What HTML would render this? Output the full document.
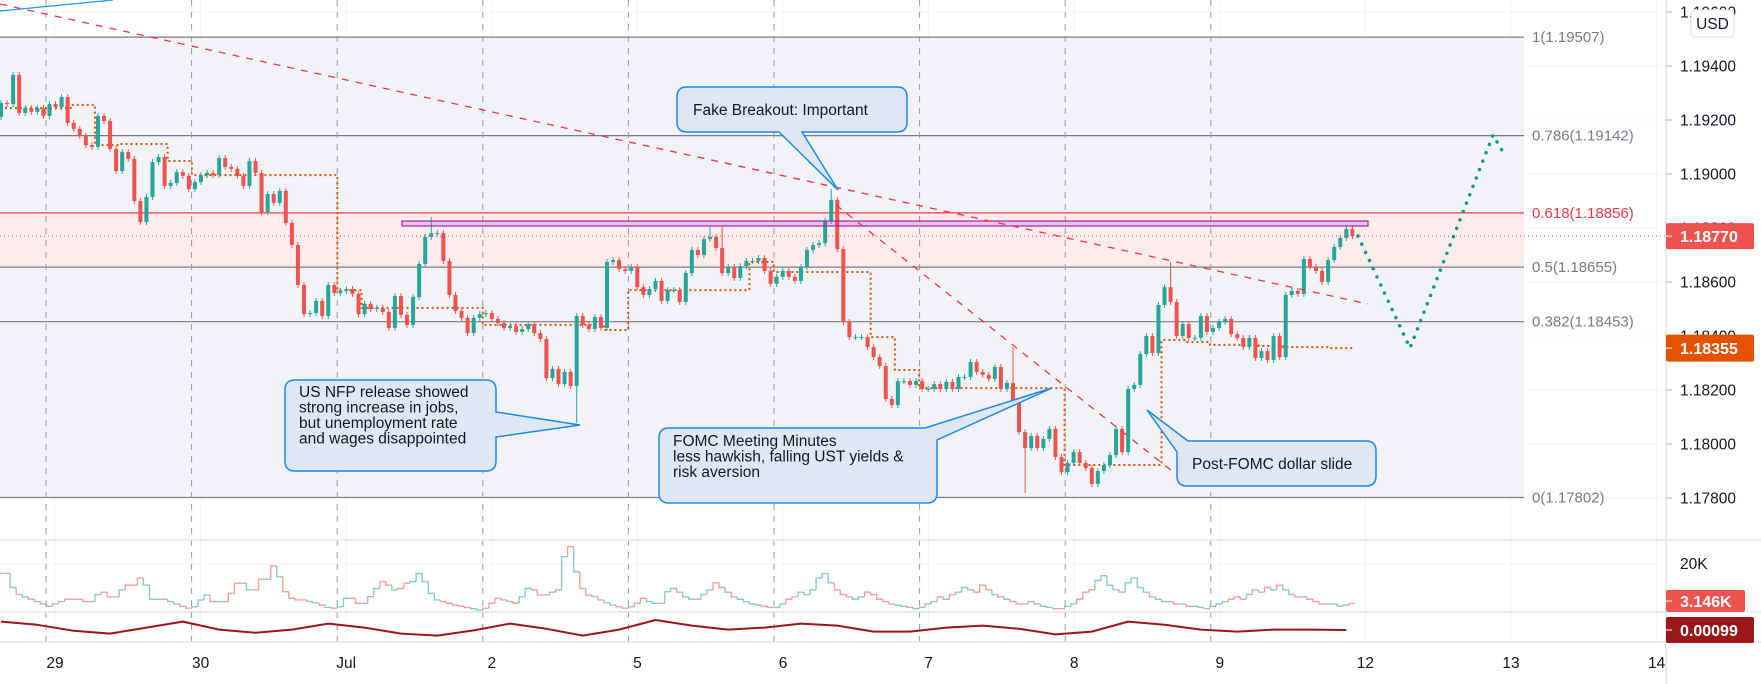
<!DOCTYPE html>
<html><head><meta charset="utf-8"><style>
html,body{margin:0;padding:0;background:#fff;}
svg{display:block;font-family:"Liberation Sans",sans-serif;}
</style></head><body>
<svg id="chart" width="1761" height="684" viewBox="0 0 1761 684" xmlns="http://www.w3.org/2000/svg">
<defs><clipPath id="mainclip"><rect x="0" y="0" width="1666" height="540"/></clipPath>
<clipPath id="volclip"><rect x="0" y="540" width="1666" height="102"/></clipPath></defs>
<g id="grid"></g>
<g id="fib"></g>
<g id="sessions"></g>
<g clip-path="url(#mainclip)">
<g id="ma"></g>
<g id="candles"></g>
<g id="draw"></g>
</g>
<g clip-path="url(#volclip)"><g id="vol"></g><g id="ind"></g></g>
<g id="axis"></g>
<g id="callouts"></g>
</svg>
<script>
const closes=[1.19263,1.19259,1.19367,1.19226,1.19244,1.19230,1.19244,1.19215,1.19259,1.19248,
1.19285,1.19189,1.19167,1.19141,1.19107,1.19100,1.19215,1.19196,1.19093,1.19011,
1.19081,1.19056,1.18900,1.18822,1.18915,1.19044,1.19063,1.18956,1.18967,1.19007,
1.18993,1.18944,1.18970,1.18996,1.19004,1.18996,1.19059,1.19026,1.19019,1.18993,
1.18956,1.19048,1.19004,1.18859,1.18926,1.18893,1.18937,1.18819,1.18737,1.18589,
1.18481,1.18485,1.18530,1.18474,1.18589,1.18559,1.18567,1.18574,1.18556,1.18481,
1.18519,1.18500,1.18504,1.18489,1.18430,1.18548,1.18478,1.18441,1.18544,1.18667,
1.18767,1.18781,1.18781,1.18678,1.18552,1.18493,1.18467,1.18411,1.18467,1.18481,
1.18485,1.18463,1.18448,1.18430,1.18437,1.18415,1.18426,1.18444,1.18411,1.18389,
1.18244,1.18278,1.18222,1.18267,1.18215,1.18474,1.18441,1.18426,1.18470,1.18430,
1.18674,1.18681,1.18648,1.18641,1.18656,1.18581,1.18552,1.18574,1.18604,1.18530,
1.18570,1.18570,1.18526,1.18633,1.18719,1.18700,1.18759,1.18767,1.18726,1.18633,
1.18656,1.18615,1.18659,1.18678,1.18678,1.18689,1.18641,1.18593,1.18619,1.18641,
1.18619,1.18604,1.18656,1.18719,1.18737,1.18744,
1.18826,1.18904,1.18722,1.18452,1.18396,1.18396,1.18396,1.18359,1.18322,1.18289,
1.18167,1.18144,1.18233,1.18233,1.18219,1.18233,1.18204,1.18204,1.18222,1.18204,
1.18230,1.18204,1.18248,1.18248,1.18304,1.18267,1.18256,1.18241,1.18285,1.18204,
1.18226,1.18159,1.18044,1.17985,1.18030,1.17985,1.18019,1.18056,1.17952,1.17896,
1.17930,1.17970,1.17930,1.17911,1.17852,1.17900,1.17922,1.17959,1.18056,1.17970,
1.18204,1.18219,1.18333,1.18400,1.18337,1.18515,1.18581,1.18526,1.18400,1.18444,
1.18393,1.18393,1.18474,1.18415,1.18430,
1.18452,1.18463,1.18407,1.18393,1.18359,1.18393,1.18319,1.18344,1.18311,1.18400,
1.18322,1.18552,1.18567,1.18556,1.18685,1.18656,1.18641,1.18600,1.18681,1.18730,
1.18763,1.18796,1.18770];
const firstOpen=1.19211;
const highOverrides={71:1.18841,117:1.18804,119:1.18804,137:1.18944,167:1.18359,193:1.18674};
const lowOverrides={95:1.18078,169:1.17819};
const volumesK=[16,16,10,7,6,5,4,3,2,3,4,5,5,5,4,4,7,8,6,6,9,11,11,14,11,5,5,5,4,3,
2,1.2,1.8,4.7,6.8,4.0,4.0,4.0,7.5,11.8,11.8,9.0,9.0,13.5,13.5,19.2,14.6,8.2,5.4,4.7,4.7,4.0,3.5,2.5,1.5,
1.2,1.8,5.4,5.4,3.3,3.3,6.1,9.6,12.5,11.0,9.0,9.6,11.8,12.5,15.9,12.5,7.5,4.7,4.0,3.3,2.5,2,1.5,1,0.4,
1.2,3.3,5.4,4.7,4.0,3.3,6.1,9.6,9.0,6.8,6.8,8,9,23.1,27.4,16.7,9.6,6.8,6.1,4.7,3.5,2.6,1.8,1.2,
1.8,3.3,5.4,4.0,3.3,3.3,8.2,9.6,8,6,5,5,7,9,12,10,8,6,5,4,3,2.5,2,1.5,
1.5,3,5,6,8,7,9,14,16,12,9,7,6,5,6,8,7,5,4,3,2.5,2,1.5,1,
1.5,3,4,6,5,7,8,10,9,8,11,9,7,6,5,4,3,3,4,3,2,1.5,1,1,
2,3,5,8,9,13,15,11,9,8,12,14,10,8,6,5,4,4,3,3,2,2,1.5,1,
2,3,4,5,6,5,7,9,8,10,9,11,9,7,6,6,5,4,3,3,3,2,2.5,3.146];
const indicatorE3=[1.2,1.12,0.97,0.9,1.05,1.2,1.0,0.92,1.0,1.15,1.05,0.9,0.85,0.98,1.15,1.02,0.85,1.0,1.24,1.1,1.0,1.05,1.15,1.1,0.95,0.95,1.05,1.1,1.02,0.88,0.95,1.2,1.12,1.0,0.95,1.0,1.0,0.99];
const maLevels=[1.19244,1.19244,1.19244,1.19256,1.19107,1.19111,1.19111,1.19048,1.18996,1.18996,1.18996,1.18996,1.18996,1.18996,
1.18570,1.18504,1.18504,1.18504,1.18504,1.18504,1.18441,1.18441,1.18441,1.18441,1.18441,1.18422,
1.18570,1.18570,1.18570,1.18570,1.18570,1.18674,1.18637,1.18637,1.18637,1.18637,1.18396,1.18274,1.18207,
1.18207,1.18207,1.18207,1.18207,1.18207,1.17922,1.17922,1.17922,1.17922,1.18385,1.18378,1.18367,1.18367,1.18363,1.18359,1.18359,1.18355];
const fibRatios=["1","0.786","0.618","0.5","0.382","0"];
const fibPrices=[1.19507,1.19142,1.18856,1.18655,1.18453,1.17802];
const priceTicks=[1.196,1.194,1.192,1.190,1.188,1.186,1.184,1.182,1.180,1.178];
const dayLabels=["29","30","Jul","2","5","6","7","8","9","12","13","14"];
const lastPrice=1.18770, maLast=1.18355, volLast="3.146K", indLast="0.00099";

const NS="http://www.w3.org/2000/svg";
function mk(tag,attrs,parent,text){const e=document.createElementNS(NS,tag);for(const k in attrs)e.setAttribute(k,attrs[k]);if(text!==undefined)e.textContent=text;if(parent)parent.appendChild(e);return e;}
const step=6.06;
const xOf=i=>1+i*step;
const yOf=p=>498-(p-1.178)*27000;
const vY=v=>611-v*2.35;
const iY=v=>630-(v-0.99)*40;
const dayX=k=>55+k*145.6;
const $=id=>document.getElementById(id);

// grid
const grid=$('grid');
priceTicks.forEach(p=>{const l=mk('line',{x1:0,x2:1666,y1:yOf(p),y2:yOf(p),stroke:'#f0f3fa','stroke-width':1},grid);

});
mk('line',{x1:0,x2:1666,y1:564,y2:564,stroke:'#f0f3fa'},grid);
dayLabels.forEach((d,k)=>{const l=mk('line',{x1:dayX(k),x2:dayX(k),y1:0,y2:642,stroke:'#f0f3fa'},grid);

});

// fib
const fib=$('fib');
const fy=fibPrices.map(yOf);
mk('rect',{x:0,y:fy[0],width:1524,height:fy[5]-fy[0],fill:'#f1f3f6'},fib);
mk('rect',{x:0,y:fy[2],width:1524,height:fy[3]-fy[2],fill:'#feeced'},fib);
fibPrices.forEach((p,k)=>{const red=k===2;
const l=mk('line',{x1:0,x2:1524,y1:yOf(p),y2:yOf(p),stroke:red?'#f23645':'#787b86','stroke-width':1.2},fib);


const t=mk('text',{x:1532,y:yOf(p)+5,'font-size':15,fill:red?'#f23645':'#787b86'},fib,fibRatios[k]+'('+p.toFixed(5)+')');

});

// session breaks
const ses=$('sessions');
for(let k=0;k<9;k++){const x=dayX(k)-9;const l=mk('line',{x1:x,x2:x,y1:0,y2:642,stroke:'#9598a1','stroke-width':1,'stroke-dasharray':'6,6'},ses);

}

// current price dotted
const draw=$('draw');
mk('line',{x1:0,x2:1666,y1:yOf(lastPrice),y2:yOf(lastPrice),stroke:'#f23645','stroke-width':1,'stroke-dasharray':'1,3'},draw);

// MA step
const ma=$('ma');
let d='';const bw=4*step;
maLevels.forEach((p,b)=>{const x0=Math.max(0,b*bw-2),x1=Math.min(xOf(223),(b+1)*bw-2);d+=(b===0?'M':'L')+x0+','+yOf(p)+'L'+x1+','+yOf(p);});
const mp=mk('path',{d:d,fill:'none',stroke:'#e65100','stroke-width':2,'stroke-dasharray':'2,3'},ma);



// candles
const cg=$('candles');
const opens=closes.map((c,i)=>i===0?firstOpen:closes[i-1]);
closes.forEach((c,i)=>{const o=opens[i];const up=c>=o;const col=up?'#26a69a':'#ef5350';
const hi=highOverrides[i]!==undefined?highOverrides[i]:Math.max(o,c)+0.00011;
const lo=lowOverrides[i]!==undefined?lowOverrides[i]:Math.min(o,c)-0.00011;
const x=xOf(i);const g=mk('g',{},cg);


mk('line',{x1:x,x2:x,y1:yOf(hi),y2:yOf(lo),stroke:col,'stroke-width':1},g);
const yt=yOf(Math.max(o,c)),yb=yOf(Math.min(o,c));
mk('rect',{x:x-2,y:yt,width:4,height:Math.max(1,yb-yt),fill:col},g);});

// purple zone
const pz=mk('rect',{x:402,y:221,width:966,height:5,fill:'rgba(156,39,176,0.2)',stroke:'#9c27b0','stroke-width':1.2},draw);


// trend lines
const t1=mk('line',{x1:0,y1:4,x2:1368,y2:304,stroke:'#f23645','stroke-width':1.3,'stroke-dasharray':'7,7'},draw);


const t2=mk('line',{x1:836,y1:205,x2:1172,y2:471,stroke:'#f23645','stroke-width':1.3,'stroke-dasharray':'7,7'},draw);


const bl=mk('line',{x1:0,y1:11,x2:113,y2:0,stroke:'#2196f3','stroke-width':1.3},draw);


const proj=mk('polyline',{points:'1358,236 1410,348 1493,135 1503,152',fill:'none',stroke:'#089981','stroke-width':3.5,'stroke-linecap':'round','stroke-dasharray':'0,9'},draw);



// volume
const vg=$('vol');
volumesK.forEach((v,i)=>{const up=closes[i]>=opens[i];const col=up?'rgba(38,166,154,0.55)':'rgba(239,83,80,0.55)';
const x=xOf(i);let dd='M'+(x-3)+','+vY(v)+'L'+(x+3)+','+vY(v);
if(i>0)dd='M'+(x-3)+','+vY(volumesK[i-1])+'L'+(x-3)+','+vY(v)+dd.replace('M','L');
const p=mk('path',{d:dd,fill:'none',stroke:col,'stroke-width':1.4},vg);

});
// indicator
const ig=$('ind');
const pts=indicatorE3.map((v,k)=>xOf(Math.min(k*6,223))+','+iY(v)).join(' ');
const ip=mk('polyline',{points:pts,fill:'none',stroke:'#9b1616','stroke-width':2,'stroke-linejoin':'round'},ig);



// panes & axis
const ax=$('axis');
[540,612,642].forEach(y=>mk('line',{x1:0,x2:1761,y1:y,y2:y,stroke:'#e0e3eb','stroke-width':1.5},ax));
mk('line',{x1:1666,x2:1666,y1:0,y2:684,stroke:'#e0e3eb','stroke-width':1.5},ax);
priceTicks.forEach(p=>{const y=yOf(p);mk('line',{x1:1666,x2:1672,y1:y,y2:y,stroke:'#b2b5be'},ax);
const t=mk('text',{x:1680,y:y+5.5,'font-size':15.5,fill:'#131722'},ax,p.toFixed(5));

});
mk('text',{x:1680,y:569,'font-size':15.5,fill:'#131722'},ax,'20K');
dayLabels.forEach((d,k)=>{const t=mk('text',{x:dayX(k),y:668,'font-size':15.5,fill:'#131722','text-anchor':'middle'},ax,d);

});
const usd=mk('g',{},ax);


mk('rect',{x:1691,y:10,width:43,height:27,rx:4,fill:'#fff',stroke:'#e0e3eb'},usd);
mk('text',{x:1712.5,y:29,'font-size':15.5,fill:'#131722','text-anchor':'middle'},usd,'USD');
function badge(y,h,w,col,txt,name){const g=mk('g',{},ax);


mk('rect',{x:1666,y:y-h/2,width:w,height:h,rx:2,fill:col},g);
mk('line',{x1:1666,x2:1672,y1:y,y2:y,stroke:'#fff'},g);
mk('text',{x:1680,y:y+6,'font-size':16,'font-weight':'bold',fill:'#fff'},g,txt);}
badge(yOf(lastPrice),26,88,'#ef5350',lastPrice.toFixed(5),'last-price-label');
badge(yOf(maLast),27,88,'#e65100',maLast.toFixed(5),'average-price-label');
badge(601,22,79,'#ef5350',volLast,'volume-label');
badge(630,26,88,'#9b1616',indLast,'indicator-label');

// callouts
const co=$('callouts');
function callout(name,path,lines,tx,ty,lh){const g=mk('g',{},co);


mk('path',{d:path,fill:'#dfe8f2',stroke:'#1e88e5','stroke-width':1.5},g);
lines.forEach((s,k)=>mk('text',{x:tx,y:ty+k*lh,'font-size':15.5,fill:'#131722'},g,s));}
callout('fake-breakout-callout','M687,87 H897 Q907,87 907,97 V122 Q907,132 897,132 H802 L838,190 L779,132 H687 Q677,132 677,122 V97 Q677,87 687,87 Z',['Fake Breakout: Important'],693,115,17);
callout('nfp-callout','M295,380 H486 Q496,380 496,390 V412 L580,425 L496,437 V461 Q496,471 486,471 H295 Q285,471 285,461 V390 Q285,380 295,380 Z',['US NFP release showed','strong increase in jobs,','but unemployment rate','and wages disappointed'],299,397,15.5);
callout('fomc-minutes-callout','M669,428 H925 L1052,388 L937,440 V493 Q937,503 927,503 H669 Q659,503 659,493 V438 Q659,428 669,428 Z',['FOMC Meeting Minutes','less hawkish, falling UST yields &','risk aversion'],673,446,15.5);
callout('post-fomc-callout','M1188,441 H1366 Q1376,441 1376,451 V476 Q1376,486 1366,486 H1187 Q1177,486 1177,476 V452 L1147,410 Z',['Post-FOMC dollar slide'],1192,469,17);
</script>
</body></html>
